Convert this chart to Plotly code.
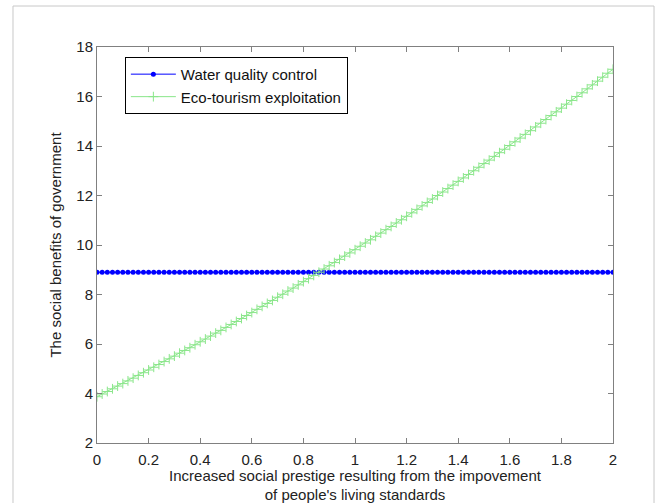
import plotly.graph_objects as go

x_vals = [round(i * 0.02, 2) for i in range(101)]

water_quality = [
    8.9, 8.9, 8.9, 8.9, 8.9, 8.9, 8.9, 8.9, 8.9, 8.9,
    8.9, 8.9, 8.9, 8.9, 8.9, 8.9, 8.9, 8.9, 8.9, 8.9,
    8.9, 8.9, 8.9, 8.9, 8.9, 8.9, 8.9, 8.9, 8.9, 8.9,
    8.9, 8.9, 8.9, 8.9, 8.9, 8.9, 8.9, 8.9, 8.9, 8.9,
    8.9, 8.9, 8.9, 8.9, 8.9, 8.9, 8.9, 8.9, 8.9, 8.9,
    8.9, 8.9, 8.9, 8.9, 8.9, 8.9, 8.9, 8.9, 8.9, 8.9,
    8.9, 8.9, 8.9, 8.9, 8.9, 8.9, 8.9, 8.9, 8.9, 8.9,
    8.9, 8.9, 8.9, 8.9, 8.9, 8.9, 8.9, 8.9, 8.9, 8.9,
    8.9, 8.9, 8.9, 8.9, 8.9, 8.9, 8.9, 8.9, 8.9, 8.9,
    8.9, 8.9, 8.9, 8.9, 8.9, 8.9, 8.9, 8.9, 8.9, 8.9,
    8.9,
]

eco_tourism = [
    3.87, 3.98, 4.08, 4.19, 4.30, 4.40, 4.51, 4.62, 4.73, 4.84,
    4.95, 5.06, 5.17, 5.29, 5.40, 5.51, 5.63, 5.74, 5.85, 5.97,
    6.09, 6.20, 6.32, 6.44, 6.55, 6.67, 6.79, 6.91, 7.03, 7.15,
    7.27, 7.40, 7.52, 7.64, 7.76, 7.89, 8.01, 8.14, 8.26, 8.39,
    8.52, 8.64, 8.77, 8.90, 9.03, 9.16, 9.29, 9.42, 9.55, 9.68,
    9.81, 9.95, 10.08, 10.21, 10.35, 10.48, 10.62, 10.75, 10.89, 11.02,
    11.16, 11.30, 11.44, 11.58, 11.72, 11.86, 12.00, 12.14, 12.28, 12.42,
    12.57, 12.71, 12.85, 13.00, 13.14, 13.29, 13.43, 13.58, 13.73, 13.87,
    14.02, 14.17, 14.32, 14.47, 14.62, 14.77, 14.92, 15.07, 15.23, 15.38,
    15.53, 15.69, 15.84, 16.00, 16.15, 16.31, 16.47, 16.62, 16.78, 16.94,
    17.10,
]

series_names = ["Water quality control", "Eco-tourism exploitation"]
x_ticks = [0, 0.2, 0.4, 0.6, 0.8, 1, 1.2, 1.4, 1.6, 1.8, 2]
x_tick_labels = ["0", "0.2", "0.4", "0.6", "0.8", "1", "1.2", "1.4", "1.6", "1.8", "2"]
y_ticks = [2, 4, 6, 8, 10, 12, 14, 16, 18]
y_tick_labels = ["2", "4", "6", "8", "10", "12", "14", "16", "18"]

FONT = "Liberation Sans, Arial"

fig = go.Figure()
fig.add_trace(go.Scatter(
    x=x_vals, y=water_quality, name=series_names[0], mode="lines+markers",
    line=dict(color="#0000ff", width=1),
    marker=dict(symbol="circle", size=5, color="#0000ff"),
))
fig.add_trace(go.Scatter(
    x=x_vals, y=eco_tourism, name=series_names[1], mode="lines+markers",
    line=dict(color="#8ae68a", width=1),
    marker=dict(symbol="cross-thin-open", size=7, line=dict(color="#70dc70", width=1)),
))

axis_common = dict(
    showline=True, linecolor="#808080", linewidth=1, mirror="ticks",
    ticks="inside", ticklen=5, tickcolor="#808080", showgrid=False, zeroline=False,
    automargin=False,
    tickfont=dict(family=FONT, size=15, color="#222222"),
)

fig.update_layout(
    width=656, height=503,
    margin=dict(l=97, r=43, t=47, b=60),
    paper_bgcolor="white", plot_bgcolor="white",
    font=dict(family=FONT, color="#222222"),
    showlegend=True,
    legend=dict(
        x=0.054, y=0.975, xanchor="left", yanchor="top",
        bordercolor="#000000", borderwidth=1, bgcolor="white",
        font=dict(family=FONT, size=15, color="#111111"),
        tracegroupgap=0, itemwidth=45,
    ),
    xaxis=dict(
        range=[0, 2], tickvals=x_ticks, ticktext=x_tick_labels,
        ticklabelstandoff=3,
        title=dict(text="Increased social prestige resulting from the impovement<br>of people's living standards",
                   font=dict(size=15, color="#222222"), standoff=7),
        **axis_common,
    ),
    yaxis=dict(
        range=[2, 18], tickvals=y_ticks, ticktext=y_tick_labels,
        title=dict(text="The social benefits of government",
                   font=dict(size=15, color="#222222"), standoff=11),
        **axis_common,
    ),
    shapes=[dict(
        type="path", xref="paper", yref="paper",
        path="M -0.1628,-0.16 L -0.1628,1.1035 L 1.0795,1.1035 L 1.0795,-0.16",
        line=dict(color="#c8c8c8", width=1),
    )],
)

fig.write_html("out.html")
